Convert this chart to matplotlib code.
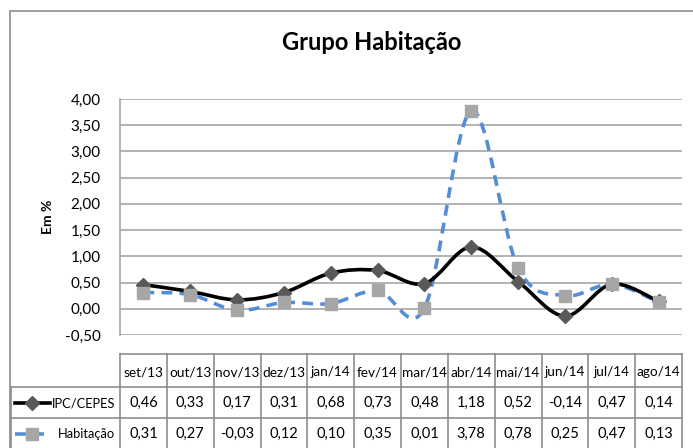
import matplotlib

matplotlib.use("Agg")
import matplotlib.pyplot as plt
import numpy as np
from matplotlib.path import Path
from matplotlib.patches import PathPatch
from matplotlib.lines import Line2D

# data
months = ["set/13", "out/13", "nov/13", "dez/13", "jan/14", "fev/14",
          "mar/14", "abr/14", "mai/14", "jun/14", "jul/14", "ago/14"]
ipc_cepes = [0.46, 0.33, 0.17, 0.31, 0.68, 0.73, 0.48, 1.18, 0.52, -0.14, 0.47, 0.14]
habitacao = [0.31, 0.27, -0.03, 0.12, 0.10, 0.35, 0.01, 3.78, 0.78, 0.25, 0.47, 0.13]
series_names = ["IPC/CEPES", "Habitação"]
y_ticks = [-0.5, 0.0, 0.5, 1.0, 1.5, 2.0, 2.5, 3.0, 3.5, 4.0]

plt.rcParams["font.family"] = ["Liberation Sans Narrow", "Lato", "DejaVu Sans"]

W, H = 693, 448
fig = plt.figure(figsize=(W / 100, H / 100), dpi=100)
fig.patch.set_facecolor("white")

# plot area in pixels (top-left origin)
PL, PR, PT, PB = 120, 682, 99, 335


def fx(px):
    return px / W


def fy(py):
    return 1 - py / H


ax = fig.add_axes([fx(PL), fy(PB), fx(PR) - fx(PL), fy(PT) - fy(PB)])
n = len(months)
ax.set_xlim(-0.5, n - 0.5)
ax.set_ylim(-0.5, 4.0)
ax.set_yticks(y_ticks)
ax.set_yticklabels([f"{v:.2f}".replace(".", ",") for v in y_ticks], fontsize=11)
ax.tick_params(axis="y", length=0, pad=14)
ax.set_xticks([])
ax.grid(axis="y", color="#a6a6a6", linewidth=1.2)
ax.set_axisbelow(True)
for side in ["top", "right", "bottom"]:
    ax.spines[side].set_visible(False)
ax.spines["left"].set_color("#a6a6a6")
ax.spines["left"].set_linewidth(1.2)
ax.set_ylabel("Em %", fontsize=10, fontweight="bold", labelpad=8)


def smooth_path(xs, ys):
    # Excel-like smoothing: cubic Bezier segments with Catmull-Rom control points
    pts = np.column_stack([xs, ys]).astype(float)
    verts = [pts[0]]
    codes = [Path.MOVETO]
    for i in range(len(pts) - 1):
        p0 = pts[i - 1] if i > 0 else pts[i]
        p1, p2 = pts[i], pts[i + 1]
        p3 = pts[i + 2] if i + 2 < len(pts) else pts[i + 1]
        c1 = p1 + (p2 - p0) / 6
        c2 = p2 - (p3 - p1) / 6
        verts += [c1, c2, p2]
        codes += [Path.CURVE4] * 3
    return Path(verts, codes)


xs = np.arange(n)
ax.add_patch(PathPatch(smooth_path(xs, habitacao), fill=False, edgecolor="#558ed5",
                       linewidth=2.6, linestyle=(0, (3, 2)), zorder=3))
ax.add_patch(PathPatch(smooth_path(xs, ipc_cepes), fill=False, edgecolor="black",
                       linewidth=2.6, zorder=4))
ax.plot(xs, ipc_cepes, linestyle="none", marker="D", markersize=7.5,
        color="#595959", zorder=5)
ax.plot(xs, habitacao, linestyle="none", marker="s", markersize=9,
        color="#a6a6a6", zorder=6)

# title
fig.text(fx(372), fy(42), "Grupo Habitação", fontsize=17, fontweight="bold",
         ha="center", va="center")

# chart border
fig.add_artist(plt.Rectangle((fx(10), fy(460)), fx(700) - fx(10), fy(11) - fy(460),
                             fill=False, edgecolor="#8c8c8c", linewidth=1.2,
                             transform=fig.transFigure))

# data table
col_w = (PR - PL) / n
head_top, row1_top, row2_top, tab_bot = 354, 387, 418, 449
grid_c = "#8c8c8c"


def hline(y, x0, x1):
    fig.add_artist(Line2D([fx(x0), fx(x1)], [fy(y), fy(y)], color=grid_c,
                          linewidth=1.2, transform=fig.transFigure))


def vline(x, y0, y1):
    fig.add_artist(Line2D([fx(x), fx(x)], [fy(y0), fy(y1)], color=grid_c,
                          linewidth=1.2, transform=fig.transFigure))


hline(head_top, PL, PR)
hline(row1_top, 11, PR)
hline(row2_top, 11, PR)
vline(11, row1_top, tab_bot)
for i in range(n + 1):
    vline(PL + i * col_w, head_top, tab_bot)

rows_y = [403, 434]
for i, m in enumerate(months):
    cx = PL + (i + 0.5) * col_w
    fig.text(fx(cx), fy(372), m, fontsize=9.8, ha="center", va="center")
    for vals, ry in zip([ipc_cepes, habitacao], rows_y):
        fig.text(fx(cx), fy(ry), f"{vals[i]:.2f}".replace(".", ","), fontsize=10.5,
                 ha="center", va="center")

# legend keys in table
fig.add_artist(Line2D([fx(15), fx(50)], [fy(rows_y[0])] * 2, color="black", linewidth=2.6,
                      transform=fig.transFigure))
fig.add_artist(Line2D([fx(32)], [fy(rows_y[0])], marker="D", markersize=7.5,
                      color="#595959", linestyle="none", transform=fig.transFigure))
fig.add_artist(Line2D([fx(15), fx(50)], [fy(rows_y[1])] * 2, color="#558ed5", linewidth=2.6,
                      linestyle=(0, (3, 2)), transform=fig.transFigure))
fig.add_artist(Line2D([fx(32)], [fy(rows_y[1])], marker="s", markersize=9,
                      color="#a6a6a6", linestyle="none", transform=fig.transFigure))
for name, ry in zip(series_names, rows_y):
    fig.text(fx(115), fy(ry), name, fontsize=9.3, ha="right", va="center")

fig.savefig("out.png", dpi=100)
